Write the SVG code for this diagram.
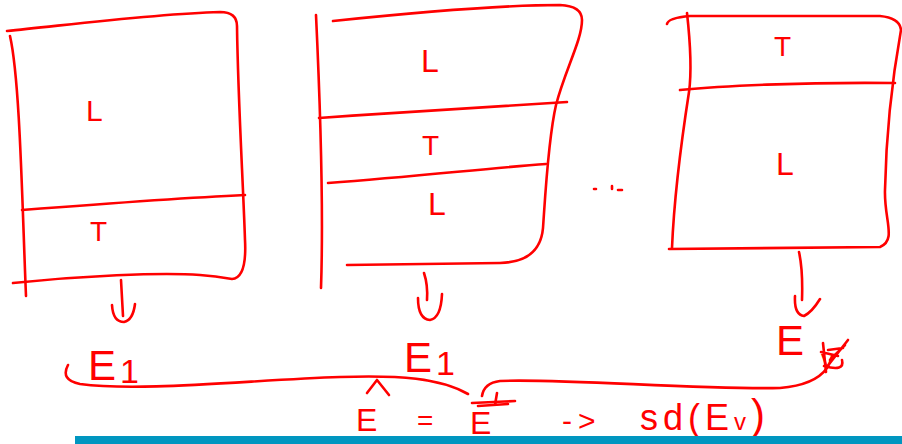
<svg xmlns="http://www.w3.org/2000/svg" width="902" height="444" viewBox="0 0 902 444">
<style>
.s{fill:none;stroke:#ff0000;stroke-width:2.6;stroke-linecap:round;stroke-linejoin:round}
.t{fill:#ff0000;font-family:"Liberation Sans",Arial,sans-serif}
</style>
<rect width="902" height="444" fill="#ffffff"/>
<g id="box1">
<path class="s" d="M7,31 C60,26 150,14 220,12 Q237,12 237,26 C238,100 243,180 245,240 Q247,278 232,279 Q215,276 200,275 C160,272 80,276 13,283"/>
<path class="s" d="M10,36 C20,80 22,200 26,296"/>
<path class="s" d="M22,210 C100,204 180,198 245,195"/>
<text class="t" x="86" y="121" font-size="30">L</text>
<text class="t" x="90" y="241" font-size="28">T</text>
</g>
<g id="box2">
<path class="s" d="M316,15 C320,100 324,200 321,288"/>
<path class="s" d="M333,21 C420,12 500,5 560,5 Q582,6 582,20 C582,40 565,70 556,105 C548,140 545,200 543,228 Q540,262 500,263 L347,265"/>
<path class="s" d="M319,118 C400,112 480,108 567,102"/>
<path class="s" d="M328,183 C420,176 490,168 546,164"/>
<text class="t" x="421" y="72" font-size="32">L</text>
<text class="t" x="422" y="155" font-size="28">T</text>
<text class="t" x="428" y="215" font-size="32">L</text>
</g>
<g id="dots">
<path class="s" d="M594,189 L596,189 M612,186 L612,189 M618,190 L622,190" stroke-width="2"/>
</g>
<g id="box3">
<path class="s" d="M667,24 Q668,18 690,16 L880,16 Q900,18 901,30 C892,80 886,140 885,190 C884,220 897,240 880,247 L669,249"/>
<path class="s" d="M687,13 C690,40 692,70 689,92 C680,150 674,200 672,248"/>
<path class="s" d="M680,90 C720,86 800,82 895,83"/>
<text class="t" x="774" y="56" font-size="28">T</text>
<text class="t" x="776" y="175" font-size="32">L</text>
</g>
<g id="connectors">
<path class="s" d="M121,280 L123,316 M112,305 Q113,322 124,322 Q133,320 135,304"/>
<path class="s" d="M424,273 Q428,285 427,300 M418,298 Q418,319 430,320 Q441,318 442,294"/>
<path class="s" d="M799,252 Q803,270 802,300 M795,296 Q794,315 804,316 Q812,312 820,299"/>
<path class="s" d="M68,365 Q60,380 80,384 C140,392 250,380 340,377 C400,375 440,378 468,394"/>
<path class="s" d="M482,396 Q484,383 500,381 C560,378 700,390 780,388 Q815,385 827,368"/>
</g>
<g id="labels">
<text class="t" x="88" y="380" font-size="42">E<tspan font-size="34" dx="4" dy="3">1</tspan></text>
<text class="t" x="404" y="372" font-size="42">E<tspan font-size="34" dx="4" dy="3">1</tspan></text>
<text class="t" x="776" y="355" font-size="42">E</text>
<text class="t" x="821" y="368" font-size="26">v</text>
<path class="s" d="M823,343 L826,372 M821,352 L838,356 M826,368 L848,340 M830,360 L845,345 M824,366 Q845,372 842,360 M828,350 L843,348" stroke-width="3.5"/>
<path class="s" d="M367,393 L377,380 L389,395"/>
<text class="t" x="356" y="431" font-size="32">E</text>
<text class="t" x="417" y="430" font-size="28">=</text>
<text class="t" x="470" y="434" font-size="32">E</text>
<path class="s" d="M472,403 L515,401 M478,406 L508,404 M497,393 L495,405" stroke-width="4"/>
<text class="t" x="562" y="431" font-size="30" letter-spacing="6">-&gt;</text>
<text class="t" x="640" y="430" font-size="36" letter-spacing="5">sd(E<tspan font-size="24">v</tspan><tspan font-size="42" dy="-1">)</tspan></text>
</g>
<rect x="75" y="436" width="827" height="8" fill="#0096c0"/>
</svg>
